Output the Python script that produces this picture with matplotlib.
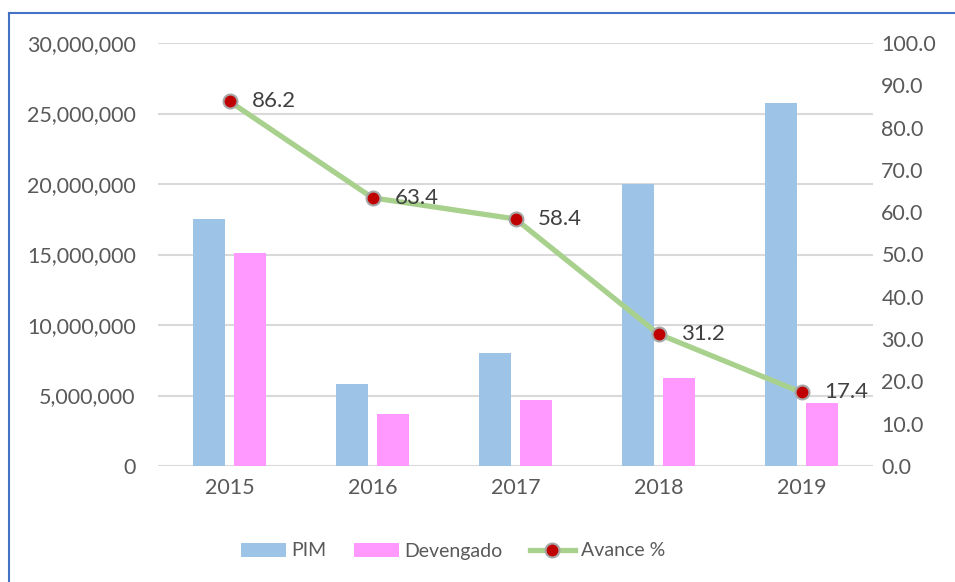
import matplotlib.pyplot as plt
from matplotlib.lines import Line2D
from matplotlib.ticker import FuncFormatter
import numpy as np

plt.rcParams['font.family'] = ['Lato', 'DejaVu Sans']

anios = ['2015', '2016', '2017', '2018', '2019']
pim = [17550000, 5800000, 8000000, 20000000, 25740000]
devengado = [15130000, 3680000, 4680000, 6240000, 4470000]
avance = [86.2, 63.4, 58.4, 31.2, 17.4]

texto = '#595959'
fs = 15.5
fig = plt.figure(figsize=(9.55, 5.82), dpi=100)
ax = fig.add_axes([158 / 955, 1 - 466 / 582, 715 / 955, 423 / 582])
ax2 = ax.twinx()

x = np.arange(len(anios))
ancho = 0.224
sep = 0.063
ax.bar(x - (ancho + sep) / 2, pim, ancho, color='#9DC3E6', label='PIM', zorder=2)
ax.bar(x + (ancho + sep) / 2, devengado, ancho, color='#FF99FF', label='Devengado', zorder=2)

ax.set_xlim(-0.5, len(anios) - 0.5)
ax.set_ylim(0, 30000000)
ax.set_yticks(np.arange(0, 30000001, 5000000))
ax.yaxis.set_major_formatter(FuncFormatter(lambda v, p: f'{v:,.0f}'))
ax.set_xticks(x)
ax.set_xticklabels(anios)
ax.grid(axis='y', color='#D9D9D9', linewidth=1.5, zorder=0)
ax.set_axisbelow(True)
for s in ax.spines.values():
    s.set_visible(False)
ax.tick_params(axis='y', length=0, pad=16, labelsize=fs, labelcolor=texto)
ax.tick_params(axis='x', length=0, pad=9, labelsize=fs, labelcolor=texto)

ax2.plot(x, avance, color='#A9D18E', linewidth=3.8, marker='o', markersize=10,
         markerfacecolor='#C00000', markeredgecolor='#A6A6A6', markeredgewidth=1.5,
         label='Avance %', zorder=3)
for xi, v in zip(x, avance):
    ax2.annotate(f'{v:.1f}', (xi, v), xytext=(16, 0), textcoords='offset points',
                 va='center', ha='left', fontsize=16, color='#404040')
ax2.set_ylim(0, 100)
ax2.set_yticks(np.arange(0, 101, 10))
ax2.yaxis.set_major_formatter(FuncFormatter(lambda v, p: f'{v:.1f}'))
for s in ax2.spines.values():
    s.set_visible(False)
ax2.tick_params(axis='y', length=0, pad=6, labelsize=fs, labelcolor=texto)

h1, l1 = ax.get_legend_handles_labels()
h2, l2 = ax2.get_legend_handles_labels()
fig.legend(h1 + h2, l1 + l2, loc='center', bbox_to_anchor=(453 / 955, 1 - 551 / 582), ncol=3,
           frameon=False, fontsize=14, labelcolor=texto, handlelength=2.3,
           columnspacing=1.4, handletextpad=0.3)

# borde azul del recuadro
fig.add_artist(Line2D([9 / 955, 9 / 955], [0, 1 - 13 / 582], color='#4472C4', linewidth=1.5))
fig.add_artist(Line2D([9 / 955, 1], [1 - 13 / 582, 1 - 13 / 582], color='#4472C4', linewidth=1.5))

fig.savefig('out.png', dpi=100)
